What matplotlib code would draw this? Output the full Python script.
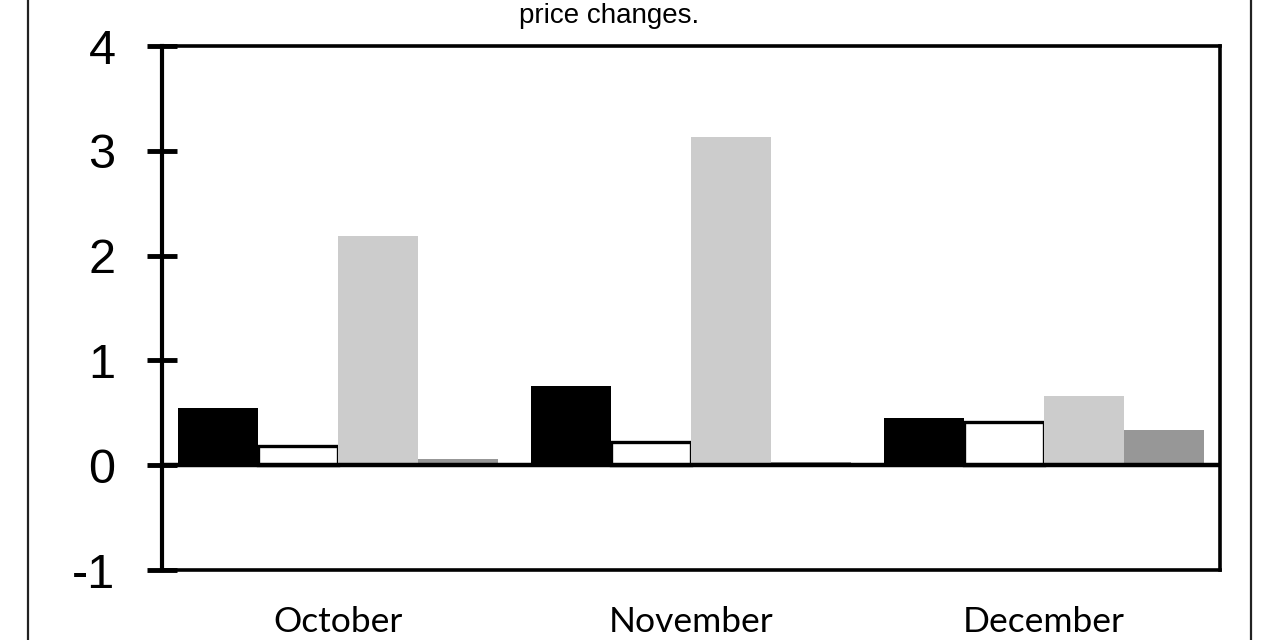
import matplotlib
matplotlib.use("Agg")
import matplotlib.pyplot as plt
import numpy as np
from matplotlib.lines import Line2D

categories = ["October", "November", "December"]
series_names = ["Series 1", "Series 2", "Series 3", "Series 4"]
series_1 = [0.55, 0.76, 0.45]
series_2 = [0.18, 0.22, 0.41]
series_3 = [2.19, 3.13, 0.66]
series_4 = [0.06, 0.03, 0.34]
yticks = [-1, 0, 1, 2, 3, 4]
title_text = "price changes."

fills = ["#000000", "#ffffff", "#cccccc", "#979797"]
edges = ["#000000", "#000000", "#cccccc", "#979797"]
lws = [0, 2.4, 0, 0]

fig = plt.figure(figsize=(12.8, 6.4), dpi=100)
ax = fig.add_axes([162/1280, 1-570/640, (1220-162)/1280, (570-46)/640])

x = np.arange(len(categories))
w = 0.227
all_series = [series_1, series_2, series_3, series_4]
for i, vals in enumerate(all_series):
    off = (i - 1.5) * w
    ax.bar(x + off, vals, width=w, color=fills[i], edgecolor=edges[i],
           linewidth=lws[i], label=series_names[i], zorder=2)

ax.axhline(0, color="black", linewidth=3.2, zorder=3)
ax.set_xlim(-0.5, 2.5)
ax.set_ylim(-1, 4)
ax.set_yticks(yticks)
ax.set_yticklabels([str(v) for v in yticks], fontsize=35, family="Liberation Sans")
ax.tick_params(axis="y", direction="inout", length=21, width=3.5, pad=23)
ax.set_xticks(x)
ax.set_xticklabels(categories, fontsize=25.5, family="Lato")
ax.tick_params(axis="x", length=0, pad=26)
for s in ax.spines.values():
    s.set_linewidth(2.6)
ax.spines["left"].set_linewidth(3)

fig.text(609/1280, 1-16/640, title_text, ha="center", va="center",
         fontsize=20, family="Liberation Sans")

fig.add_artist(Line2D([28/1280, 28/1280], [0, 1], transform=fig.transFigure,
                      color="#222222", linewidth=1.6))
fig.add_artist(Line2D([1251/1280, 1251/1280], [0, 1], transform=fig.transFigure,
                      color="#222222", linewidth=1.6))

fig.savefig("out.png", dpi=100)
